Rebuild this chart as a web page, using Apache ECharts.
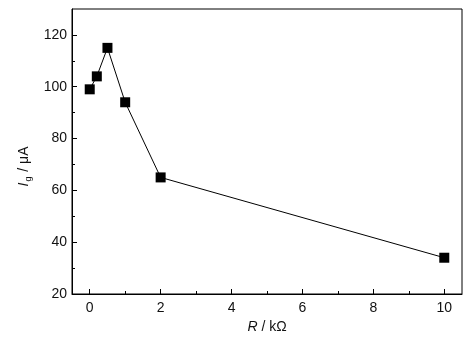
<!DOCTYPE html>
<html><head><meta charset="utf-8">
<script src="https://cdn.jsdelivr.net/npm/echarts@6/dist/echarts.min.js"></script>
<style>html,body{margin:0;padding:0;background:#fff}#c{width:473px;height:341px}</style>
</head><body><div id="c"></div>
<script>
const xValues = [0, 0.2, 0.5, 1, 2, 10];
const yValues = [99, 104, 115, 94, 65, 34];
const xMajorTicks = [0, 2, 4, 6, 8, 10];
const xMinorTicks = [1, 3, 5, 7, 9];
const yMajorTicks = [20, 40, 60, 80, 100, 120];
const yMinorTicks = [30, 50, 70, 90, 110];

const font = 'Liberation Sans, Arial, sans-serif';
const chart = echarts.init(document.getElementById('c'));
const baseX = {type:'value', min:-0.5, max:10.5, position:'bottom', splitLine:{show:false}};
const baseY = {type:'value', min:20, max:130, position:'left', splitLine:{show:false}};
chart.setOption({
  animation:false,
  grid:{left:72, right:11, top:9, bottom:47, show:true, borderColor:'#000', borderWidth:1, backgroundColor:'transparent'},
  xAxis:[
    Object.assign({}, baseX, {
      axisLine:{show:true, onZero:false, lineStyle:{color:'#000', width:1}},
      axisTick:{show:true, inside:true, length:5, customValues:xMajorTicks, lineStyle:{color:'#000'}},
      axisLabel:{customValues:xMajorTicks, color:'#111', fontFamily:font, fontSize:14, margin:7},
      name:'{i|R}{n| / kΩ}', nameLocation:'middle', nameGap:24,
      nameTextStyle:{rich:{i:{fontStyle:'italic', fontFamily:font, fontSize:14, color:'#111'}, n:{fontFamily:font, fontSize:14, color:'#111'}}}
    }),
    Object.assign({}, baseX, {
      axisLine:{show:false, onZero:false},
      axisTick:{show:true, inside:true, length:3, customValues:xMinorTicks, lineStyle:{color:'#000'}},
      axisLabel:{show:false}
    })
  ],
  yAxis:[
    Object.assign({}, baseY, {
      axisLine:{show:true, onZero:false, lineStyle:{color:'#000', width:1}},
      axisTick:{show:true, inside:true, length:5, customValues:yMajorTicks, lineStyle:{color:'#000'}},
      axisLabel:{customValues:yMajorTicks, color:'#111', fontFamily:font, fontSize:14, margin:5},
      name:'{i|I}{sub|g}{n| / μA}', nameLocation:'middle', nameGap:38, nameRotate:90,
      nameTextStyle:{padding:[0,0,0,-30], rich:{
        i:{fontStyle:'italic', fontFamily:font, fontSize:14, color:'#111'},
        sub:{fontFamily:font, fontSize:9, color:'#111', padding:[8,1,0,1]},
        n:{fontFamily:font, fontSize:14, color:'#111'}}}
    }),
    Object.assign({}, baseY, {
      axisLine:{show:false, onZero:false},
      axisTick:{show:true, inside:true, length:3, customValues:yMinorTicks, lineStyle:{color:'#000'}},
      axisLabel:{show:false}
    })
  ],
  series:[{
    type:'line', xAxisIndex:0, yAxisIndex:0,
    data:xValues.map((x,i)=>[x, yValues[i]]),
    symbol:'rect', symbolSize:10,
    lineStyle:{color:'#000', width:1},
    itemStyle:{color:'#000'}
  }]
});
</script></body></html>
